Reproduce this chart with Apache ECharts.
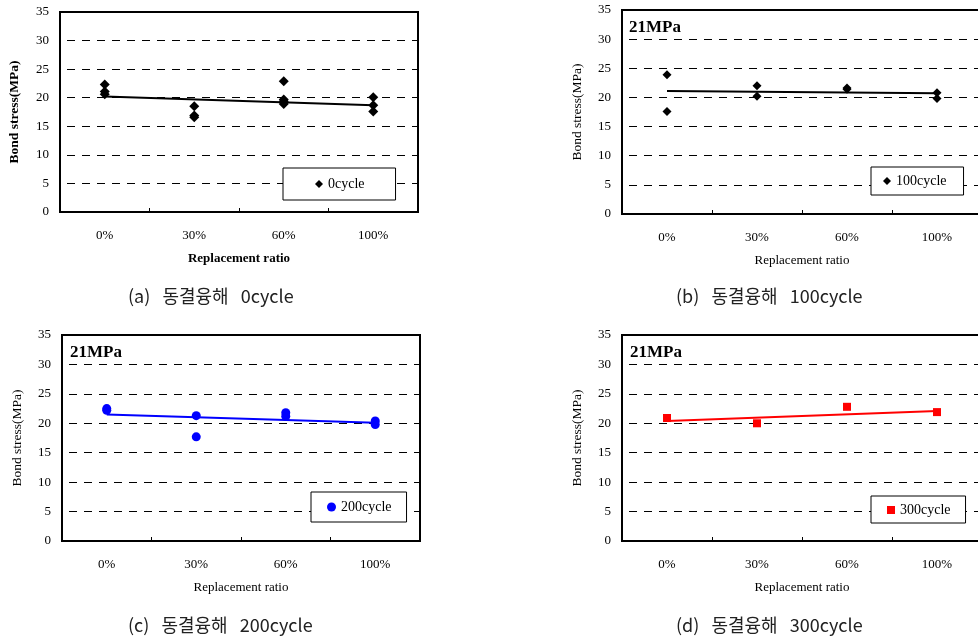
<!DOCTYPE html>
<html>
<head>
<meta charset="utf-8">
<script src="https://cdn.jsdelivr.net/npm/echarts@6/dist/echarts.min.js"></script>
<style>
html,body{margin:0;padding:0;background:#fff;}
#chart{width:978px;height:638px;}
</style>
</head>
<body>
<div id="chart"></div>
<script>
// ---- data ----
const categories = ['0%', '30%', '60%', '100%'];
const yTicks = [0, 5, 10, 15, 20, 25, 30, 35];

// values per category for each series
const cycle0 = [[22.3, 21.1, 20.6], [18.5, 16.9, 16.6], [22.9, 19.7, 19.4, 18.9], [20.1, 18.7, 17.6]];
const cycle100 = [[23.9, 17.6], [22.0, 20.2], [21.6, 21.4], [20.8, 19.8]];
const cycle200 = [[22.5, 22.2], [21.3, 17.7], [21.8, 21.2], [20.4, 19.8]];
const cycle300 = [[20.9], [20.0], [22.8], [21.9]];

// linear trend line end values (at 0% and 100%)
const trend0 = [20.2, 18.7];
const trend100 = [21.1, 20.7];
const trend200 = [21.5, 20.1];
const trend300 = [20.4, 22.1];

const seriesNames = ['0cycle', '100cycle', '200cycle', '300cycle'];
const captions = ['(a)   동결융해   0cycle', '(b)   동결융해   100cycle', '(c)   동결융해   200cycle', '(d)   동결융해   300cycle'];
const strengthLabel = '21MPa';
const yName = 'Bond stress(MPa)';
const xName = 'Replacement ratio';

// ---- build ----
const SERIF = '"Liberation Serif", "Times New Roman", serif';
const colors = ['#000000', '#000000', '#0000ff', '#ff0000'];
const symbols = ['diamond', 'diamond', 'circle', 'rect'];
const symSizes = [10, 9, 9, 8];
const legendSym = [8, 8, 9, 8];
const allVals = [cycle0, cycle100, cycle200, cycle300];
const trends = [trend0, trend100, trend200, trend300];

const grids = [
  {left: 60, top: 12, width: 358, height: 200},
  {left: 622, top: 10, width: 360, height: 204},
  {left: 62, top: 335, width: 358, height: 206},
  {left: 622, top: 335, width: 360, height: 206}
];
const boldAxisNames = [true, false, false, false];

function toPoints(vals) {
  const out = [];
  vals.forEach((arr, ci) => arr.forEach(v => out.push([ci, v])));
  return out;
}

const xAxis = [], yAxis = [], series = [], legends = [], titles = [];
grids.forEach((g, i) => {
  xAxis.push({
    type: 'category', gridIndex: i, data: categories, boundaryGap: true,
    name: xName, nameLocation: 'middle', nameGap: 40,
    nameTextStyle: {fontFamily: SERIF, fontSize: 13, color: '#000', fontWeight: boldAxisNames[i] ? 'bold' : 'normal'},
    axisLine: {lineStyle: {color: '#000', width: 2}},
    axisTick: {show: true, inside: true, length: 4, lineStyle: {color: '#000', width: 1}},
    axisLabel: {fontFamily: SERIF, fontSize: 13, color: '#000', margin: 17},
    splitLine: {show: false}
  });
  yAxis.push({
    type: 'value', gridIndex: i, min: yTicks[0], max: yTicks[yTicks.length - 1], interval: 5,
    name: yName, nameLocation: 'middle', nameGap: 38,
    nameTextStyle: {fontFamily: SERIF, fontSize: 13.5, color: '#000', fontWeight: boldAxisNames[i] ? 'bold' : 'normal'},
    axisLine: {show: true, lineStyle: {color: '#000', width: 2}},
    axisTick: {show: false},
    axisLabel: {fontFamily: SERIF, fontSize: 13, color: '#000', margin: 11},
    splitLine: {show: true, lineStyle: {color: '#000', type: [8, 7], dashOffset: 8, width: 1}}
  });
  series.push({
    name: seriesNames[i], type: 'scatter', xAxisIndex: i, yAxisIndex: i,
    symbol: symbols[i], symbolSize: symSizes[i],
    itemStyle: {color: colors[i], opacity: 1},
    data: toPoints(allVals[i]), z: 3
  });
  series.push({
    name: seriesNames[i] + ' trend', type: 'line', xAxisIndex: i, yAxisIndex: i,
    symbol: 'none', lineStyle: {color: colors[i], width: 2},
    data: [[0, trends[i][0]], [categories.length - 1, trends[i][1]]], z: 2, silent: true
  });
});

const legendPos = [
  {left: 283, top: 168, padding: [9, 31, 9, 32]},
  {left: 871, top: 167, padding: [7, 17, 7, 12]},
  {left: 311, top: 492, padding: [8, 15, 8, 16]},
  {left: 871, top: 496, padding: [7, 15, 6, 16]}
];
legendPos.forEach((p, i) => {
  legends.push({
    left: p.left, top: p.top, padding: p.padding,
    data: [{name: seriesNames[i], icon: symbols[i]}],
    itemWidth: legendSym[i], itemHeight: legendSym[i], itemGap: 5,
    borderColor: '#000', borderWidth: 1, borderRadius: 0, backgroundColor: '#fff',
    textStyle: {fontFamily: SERIF, fontSize: 14, color: '#000'},
    selectedMode: false
  });
});

// 21MPa labels for b, c, d
[[629, 19], [70, 344], [630, 344]].forEach(p => {
  titles.push({text: strengthLabel, left: p[0], top: p[1], padding: 0,
    textStyle: {fontFamily: SERIF, fontSize: 17, fontWeight: 'bold', color: '#000'}});
});
// captions
[[128, 287], [676, 287], [128, 616], [676, 616]].forEach((p, i) => {
  titles.push({text: captions[i], left: p[0], top: p[1], padding: 0,
    textStyle: {fontFamily: '"Noto Sans CJK KR", sans-serif', fontSize: 18, fontWeight: 'normal', color: '#222'}});
});

const chart = echarts.init(document.getElementById('chart'), null, {renderer: 'canvas'});
chart.setOption({
  animation: false,
  backgroundColor: '#fff',
  title: titles,
  legend: legends,
  grid: grids.map(g => Object.assign({show: true, borderColor: '#000', borderWidth: 2, backgroundColor: 'transparent', containLabel: false, outerBoundsMode: 'none'}, g)),
  xAxis: xAxis,
  yAxis: yAxis,
  series: series
});
</script>
</body>
</html>
